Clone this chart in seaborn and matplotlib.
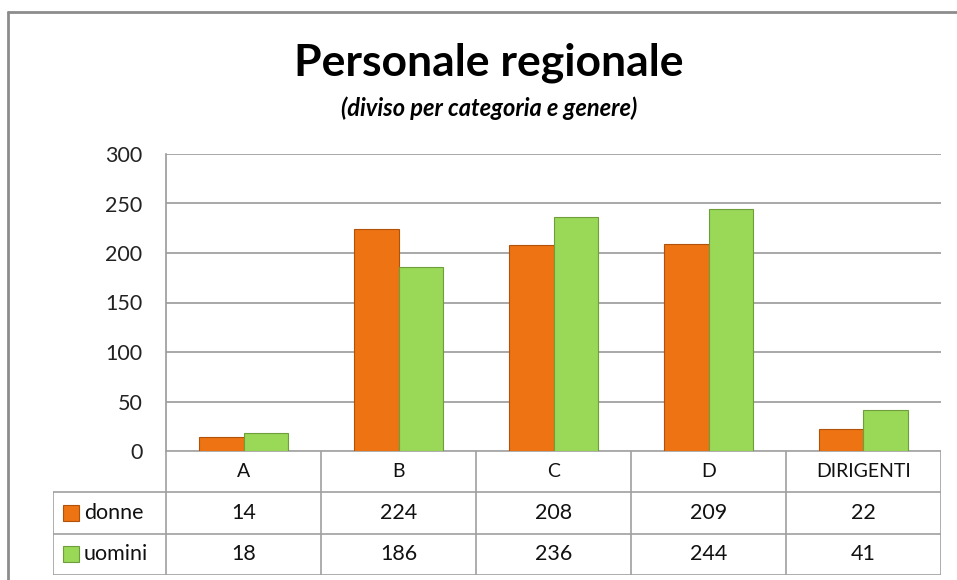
import pandas as pd
import matplotlib.pyplot as plt
import seaborn as sns
from matplotlib.lines import Line2D
from matplotlib.patches import Rectangle

# dati
categorie = ['A', 'B', 'C', 'D', 'DIRIGENTI']
donne = [14, 224, 208, 209, 22]
uomini = [18, 186, 236, 244, 41]
serie = ['donne', 'uomini']
colori = {'donne': '#EE7312', 'uomini': '#9AD857'}
bordi = {'donne': '#B0520A', 'uomini': '#6E9E3A'}
yticks = [0, 50, 100, 150, 200, 250, 300]

df = pd.DataFrame({
    'categoria': categorie * 2,
    'genere': ['donne'] * len(categorie) + ['uomini'] * len(categorie),
    'valore': donne + uomini,
})

sns.set_theme(style='white')
plt.rcParams['font.family'] = ['Lato', 'DejaVu Sans']

W, H = 957, 580
fig = plt.figure(figsize=(W / 100, H / 100), dpi=100)

# area del grafico (pixel: x 166-941, y 154-451)
ax = fig.add_axes([166 / W, (H - 451) / H, 775 / W, 297 / H])
sns.barplot(data=df, x='categoria', y='valore', hue='genere', palette=colori,
            width=0.58, gap=0, legend=False, ax=ax, saturation=1)
for cont, g in zip(ax.containers, serie):
    for bar in cont:
        bar.set_edgecolor(bordi[g])
        bar.set_linewidth(0.8)

ax.set_xlim(-0.5, 4.5)
ax.set_ylim(0, 300)
ax.set_yticks(yticks)
ax.set_yticklabels([str(v) for v in yticks], fontsize=15.5, color='#222222')
ax.set_xticks([])
ax.set_xlabel('')
ax.set_ylabel('')
ax.yaxis.grid(True, color='#9a9a9a', linewidth=1.2)
ax.set_axisbelow(True)
ax.tick_params(axis='y', length=0, pad=17)
for s in ['top', 'right', 'bottom']:
    ax.spines[s].set_visible(False)
ax.spines['left'].set_color('#9a9a9a')
ax.spines['left'].set_linewidth(1.2)

# tabella dati (pixel: x 53-941, y 451-575)
xl = -0.5 - 113 / 155
tax = fig.add_axes([53 / W, (H - 575) / H, 888 / W, 124 / H])
tax.set_xlim(xl, 4.5)
tax.set_ylim(0, 3)
tax.axis('off')
lc = '#a0a0a0'
tax.plot([-0.5, 4.5], [3, 3], color=lc, lw=1.2)
for yy in [0, 1, 2]:
    tax.plot([xl, 4.5], [yy, yy], color=lc, lw=1.2)
for i in range(len(categorie) + 1):
    tax.plot([i - 0.5, i - 0.5], [0, 3], color=lc, lw=1.2)
tax.plot([xl, xl], [0, 2], color=lc, lw=1.2)

for i, c in enumerate(categorie):
    tax.text(i, 2.5, c, ha='center', va='center', fontsize=14, color='#111111')
    tax.text(i, 1.5, str(donne[i]), ha='center', va='center', fontsize=15.5, color='#111111')
    tax.text(i, 0.5, str(uomini[i]), ha='center', va='center', fontsize=15.5, color='#111111')

for row, g in zip([1.5, 0.5], serie):
    sw = 16 / 155
    tax.add_patch(Rectangle((-0.5 - 95 / 155 - sw / 2, row - 0.19), sw, 0.38,
                            facecolor=colori[g], edgecolor=bordi[g], lw=0.8))
    tax.text(-0.5 - 82 / 155, row, g, ha='left', va='center', fontsize=15.5, color='#111111')

# titoli
fig.text(489 / W, 1 - 63 / H, 'Personale regionale', ha='center', va='center',
         fontsize=32, fontweight='bold', color='black')
fig.text(489 / W, 1 - 108 / H, '(diviso per categoria e genere)', ha='center', va='center',
         fontsize=17, fontweight='bold', fontstyle='italic', color='black')

# cornice
fig.add_artist(Line2D([8 / W, 8 / W], [0, 1 - 12 / H], color='#8c8c8c', lw=2))
fig.add_artist(Line2D([8 / W, 1], [1 - 12 / H, 1 - 12 / H], color='#8c8c8c', lw=2))

fig.savefig('out.png', dpi=100)
